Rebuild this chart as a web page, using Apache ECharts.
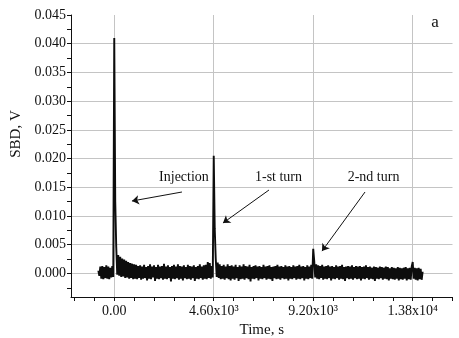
<!DOCTYPE html>
<html>
<head>
<meta charset="utf-8">
<script src="https://cdn.jsdelivr.net/npm/echarts@6/dist/echarts.min.js"></script>
<style>
  html, body { margin: 0; background: #fff; }
  #chart { width: 459px; height: 338px; }
</style>
</head>
<body>
<div id="chart"></div>
<script>
// SBD trace, sampled every 46 s starting at -736 s, values in mV
const sampleStart = -736;
const sampleStep = 46;
const signalMv = [
  0.5, -0.4, 1.2, -0.9, 1.3, -1.0, 1.1, -0.8, 1.4, -0.9,
  1.2, -1.0, 1.0, -0.7, 1.3, -0.6, 41.0, 12.5, 4.6, -0.2,
  3.2, -0.4, 2.9, -0.6, 2.6, -0.5, 2.4, -0.8, 2.2, -0.7,
  2.0, -0.9, 1.8, -0.8, 1.7, -1.0, 1.6, -0.9, 1.5, -1.0,
  1.3, -0.8, 1.4, -1.1, 1.2, -0.9, 1.5, -0.8, 1.1, -1.2,
  1.3, -0.9, 1.6, -1.0, 1.2, -0.7, 1.4, -1.3, 1.1, -0.9,
  1.5, -1.0, 1.2, -0.8, 1.3, -1.1, 1.7, -0.9, 1.2, -1.0,
  1.4, -0.8, 1.1, -1.4, 1.3, -0.9, 1.5, -1.0, 1.2, -0.8,
  1.6, -1.1, 1.3, -0.9, 1.2, -1.2, 1.4, -0.8, 1.1, -1.0,
  1.5, -0.9, 1.3, -1.1, 1.2, -0.8, 1.4, -1.3, 1.1, -0.9,
  1.3, -1.0, 1.6, -0.8, 1.2, -1.1, 1.4, -0.9, 1.5, -1.0,
  2.0, -0.8, 1.8, -0.9, 1.3, -0.7, 20.5, 7.8, 2.6, -0.6,
  1.9, -0.8, 1.6, -1.0, 1.3, -0.9, 1.5, -1.1, 1.2, -0.8,
  1.6, -1.0, 1.3, -1.2, 1.4, -0.9, 1.2, -1.1, 1.5, -0.8,
  1.1, -1.3, 1.4, -1.0, 1.2, -0.9, 1.6, -1.1, 1.3, -0.8,
  1.2, -1.0, 1.5, -1.4, 1.1, -0.9, 1.3, -1.0, 1.4, -0.8,
  1.2, -1.2, 1.3, -0.9, 1.1, -1.0, 1.5, -0.8, 1.2, -1.1,
  1.3, -0.9, 1.4, -1.0, 1.1, -1.3, 1.2, -0.8, 1.3, -1.0,
  1.5, -0.9, 1.2, -1.1, 1.3, -0.8, 1.1, -1.0, 1.4, -0.9,
  1.2, -1.2, 1.3, -0.9, 1.1, -1.0, 1.4, -0.8, 1.2, -1.1,
  1.3, -0.9, 1.5, -1.0, 1.2, -0.8, 1.3, -1.2, 1.1, -0.9,
  1.4, -1.0, 1.2, -0.8, 1.5, -0.9, 4.3, 2.2, -0.7, 1.6,
  -0.9, 1.4, -1.0, 1.3, -0.8, 1.5, -1.1, 1.2, -0.9, 1.3,
  -1.0, 1.4, -0.8, 1.2, -1.2, 1.3, -0.9, 1.1, -1.0, 1.4,
  -0.8, 1.2, -1.1, 1.3, -0.9, 1.5, -1.0, 1.1, -1.3, 1.2,
  -0.8, 1.3, -1.0, 1.2, -0.9, 1.4, -1.1, 1.1, -0.8, 1.3,
  -1.0, 1.2, -0.9, 1.3, -1.2, 1.1, -0.9, 1.2, -1.0, 1.4,
  -0.8, 1.1, -1.1, 1.2, -0.9, 1.0, -1.0, 1.2, -1.3, 1.1,
  -0.9, 1.0, -1.0, 1.2, -0.8, 1.1, -1.1, 1.0, -0.9, 1.2,
  -1.0, 1.1, -1.2, 0.9, -0.9, 1.1, -1.0, 1.0, -1.1, 0.9,
  -0.9, 1.1, -1.2, 1.0, -1.0, 0.9, -1.1, 1.0, -0.9, 1.1,
  -1.2, 0.9, -1.0, 1.0, -1.1, 1.2, 2.0, -0.9, 1.0, -1.1,
  0.9, -1.2, 1.0, -1.0, 0.8, -1.1, 0.3
];

// axis ticks and labels
const xLabelValues = [0, 4600, 9200, 13800];
const xLabelText = ["0.00", "4.60x10³", "9.20x10³", "1.38x10⁴"];
const xMinorTicks = [
  -1840, -920, 0, 920, 1840, 2760, 3680, 4600, 5520, 6440, 7360,
  8280, 9200, 10120, 11040, 11960, 12880, 13800, 14720, 15640,
];
const yLabelValues = [0, 0.005, 0.01, 0.015, 0.02, 0.025, 0.03, 0.035, 0.04, 0.045];
const yMinorTicks = [
  -0.0025, 0, 0.0025, 0.005, 0.0075, 0.01, 0.0125, 0.015, 0.0175, 0.02,
  0.0225, 0.025, 0.0275, 0.03, 0.0325, 0.035, 0.0375, 0.04, 0.0425, 0.045,
];
const yGridValues = [0, 0.005, 0.01, 0.015, 0.02, 0.025, 0.03, 0.035, 0.04];

// annotation text (centre) and arrow (tail -> head), data coords
const noteNames = ["Injection", "1-st turn", "2-nd turn"];
const notePos = [[3224, 0.0168], [7594, 0.0168], [11988, 0.0168]];
const arrowFrom = [[3131, 0.01418], [7155, 0.01453], [11595, 0.01418]];
const arrowTo = [[819, 0.01261], [5027, 0.00878], [9605, 0.00389]];

const X_MIN = -2000, X_MAX = 15640;
const Y_MIN = -0.0041, Y_MAX = 0.045;
const serif = "Liberation Serif";
const ink = "#111";
const gridGrey = "#c4c4c4";

const traceData = signalMv.map((v, i) => [sampleStart + i * sampleStep, v / 1000]);

const chart = echarts.init(document.getElementById("chart"));

const options = {
  animation: false,
  backgroundColor: "#fff",
  grid: {
    left: 71,
    right: 6.5,
    top: 15,
    bottom: 41,
    outerBoundsMode: "none",
  },
  xAxis: [
    {
      type: "value",
      min: X_MIN,
      max: X_MAX,
      name: "Time, s",
      nameLocation: "middle",
      nameGap: 25,
      nameTextStyle: { fontFamily: serif, fontSize: 15, color: ink },
      axisLine: { onZero: false, lineStyle: { color: ink, width: 1 } },
      axisTick: {
        inside: false,
        length: 4,
        customValues: xMinorTicks,
        lineStyle: { color: ink, width: 1 },
      },
      axisLabel: {
        customValues: xLabelValues,
        margin: 7,
        fontFamily: serif,
        fontSize: 14,
        color: ink,
        formatter: (v) => xLabelText[xLabelValues.indexOf(v)] ?? "",
      },
      splitLine: { show: false },
    },
    {
      type: "value",
      min: X_MIN,
      max: X_MAX,
      position: "bottom",
      axisLine: { show: false },
      axisLabel: { show: false },
      axisTick: { show: false, customValues: xLabelValues },
      splitLine: { show: true, lineStyle: { color: gridGrey, width: 1 } },
    },
  ],
  yAxis: [
    {
      type: "value",
      min: Y_MIN,
      max: Y_MAX,
      axisLine: { show: true, onZero: false, lineStyle: { color: ink, width: 1 } },
      axisTick: {
        show: true,
        inside: false,
        length: 4,
        customValues: yMinorTicks,
        lineStyle: { color: ink, width: 1 },
      },
      axisLabel: {
        customValues: yLabelValues,
        margin: 5,
        fontFamily: serif,
        fontSize: 14,
        color: ink,
        formatter: (v) => v.toFixed(3),
      },
      splitLine: { show: false },
    },
    {
      type: "value",
      min: Y_MIN,
      max: Y_MAX,
      position: "left",
      axisLine: { show: false },
      axisLabel: { show: false },
      axisTick: { show: false, customValues: yGridValues },
      splitLine: { show: true, lineStyle: { color: gridGrey, width: 1 } },
    },
  ],
  series: [
    {
      name: "SBD",
      type: "line",
      xAxisIndex: 0,
      yAxisIndex: 0,
      data: traceData,
      showSymbol: false,
      symbol: "none",
      lineStyle: { color: "#0d0d0d", width: 1.9 },
      z: 3,
      markLine: {
        silent: true,
        symbol: ["none", "arrow"],
        symbolSize: 7,
        label: { show: false },
        lineStyle: { color: ink, width: 1, type: "solid" },
        data: arrowFrom.map((from, i) => [{ coord: from }, { coord: arrowTo[i] }]),
      },
    },
    {
      name: "notes",
      type: "scatter",
      xAxisIndex: 0,
      yAxisIndex: 0,
      symbolSize: 1,
      itemStyle: { color: "#fff", opacity: 1 },
      silent: true,
      z: 1,
      label: {
        show: true,
        position: "inside",
        formatter: "{b}",
        fontFamily: serif,
        fontSize: 14,
        color: ink,
        opacity: 1,
        textBorderWidth: 0,
      },
      data: notePos.map((p, i) => ({ name: noteNames[i], value: p })),
    },
  ],
  graphic: [
    {
      type: "text",
      x: 16,
      y: 134,
      rotation: Math.PI / 2,
      style: {
        text: "SBD, V",
        fontFamily: serif,
        fontSize: 15,
        fill: ink,
        align: "center",
        verticalAlign: "middle",
      },
    },
    {
      type: "text",
      x: 435,
      y: 23,
      style: {
        text: "a",
        fontFamily: serif,
        fontSize: 17,
        fill: ink,
        align: "center",
        verticalAlign: "middle",
      },
    },
  ],
};

chart.setOption(options);
</script>
</body>
</html>
